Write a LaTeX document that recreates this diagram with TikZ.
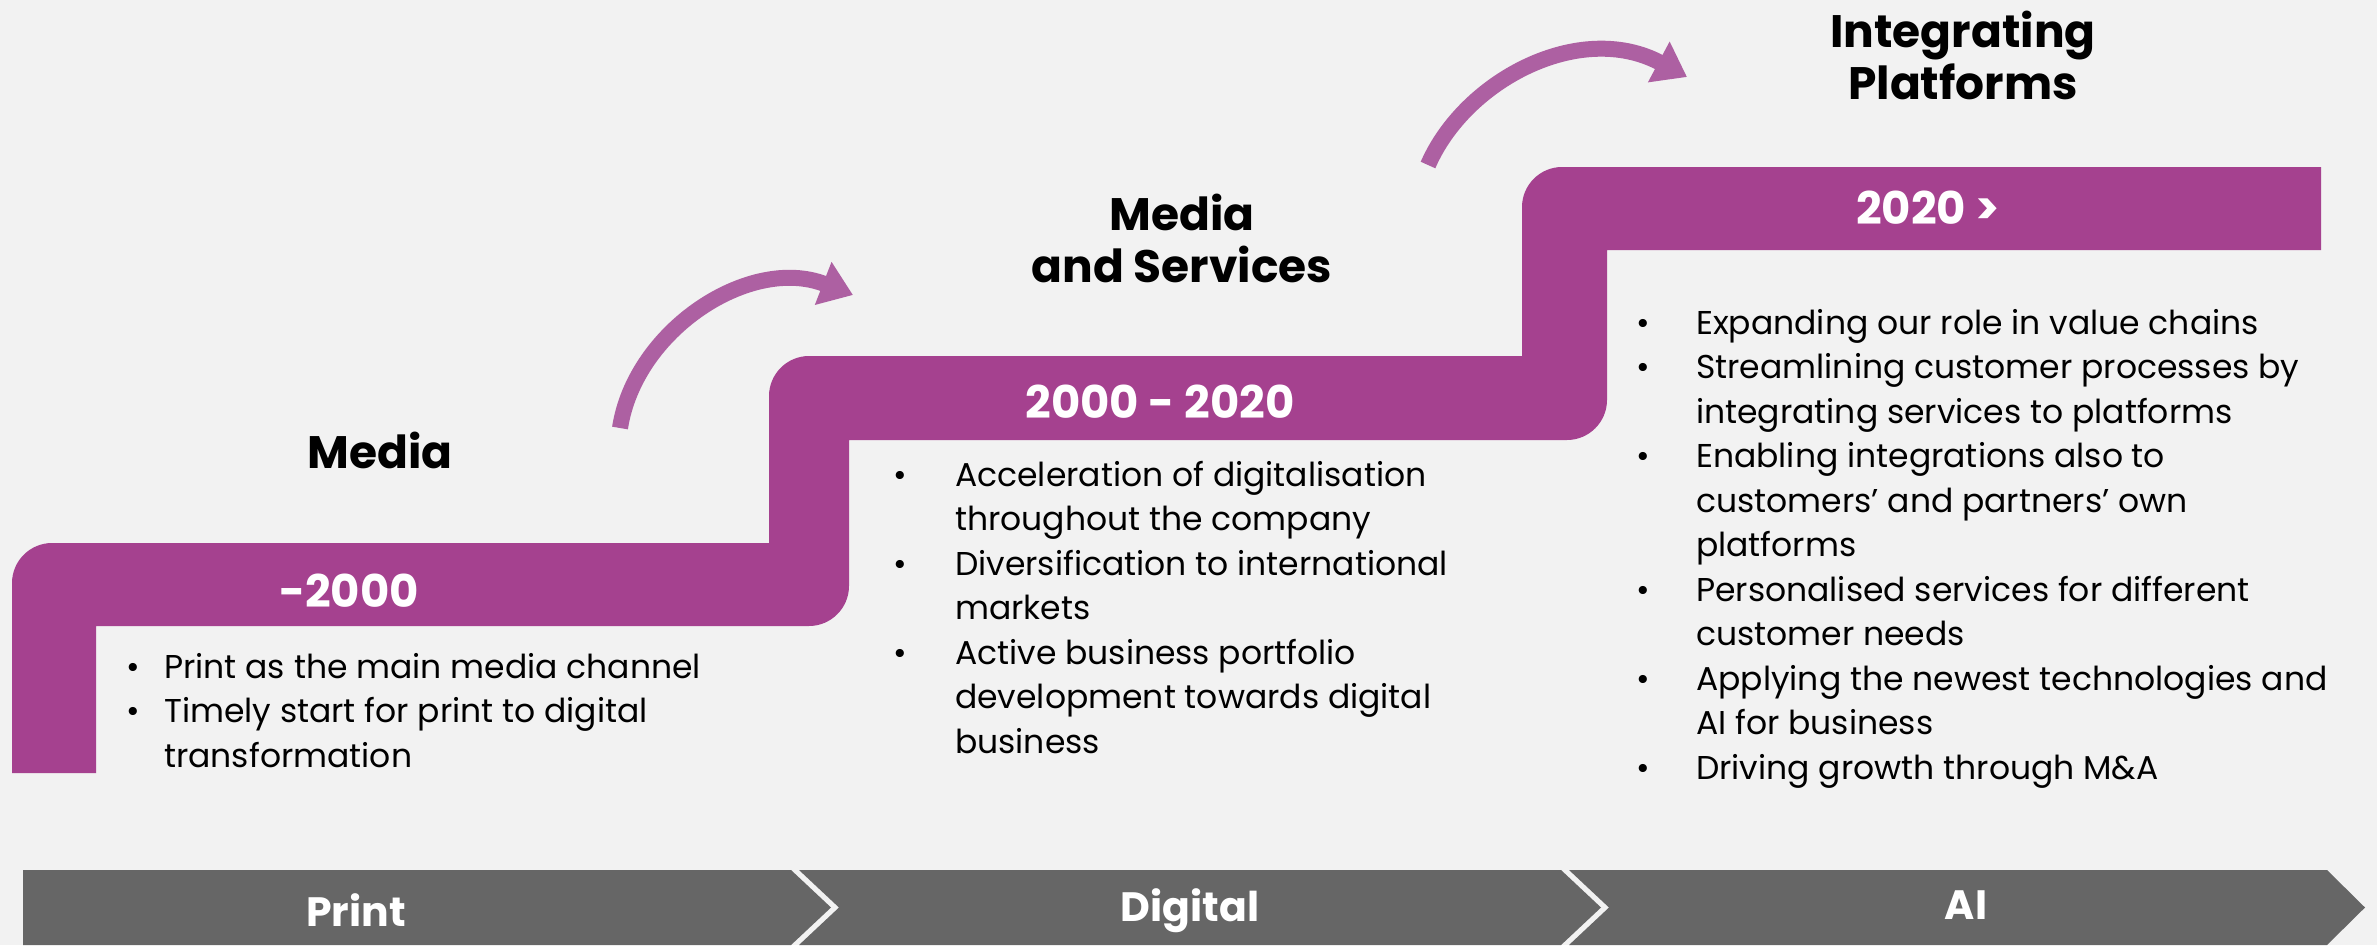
\documentclass[tikz,border=0pt]{standalone}
\usepackage{fontspec}
\setmainfont{Poppins}
\usetikzlibrary{arrows.meta}
\definecolor{bg}{HTML}{F2F2F2}
\definecolor{plum}{HTML}{A5418F}
\definecolor{arr}{HTML}{AD60A2}
\definecolor{chev}{HTML}{666666}
\begin{document}
\begin{tikzpicture}[x=1pt,y=-1pt,
  heading/.style={font=\fontsize{45.5}{52}\selectfont\bfseries, align=center, inner sep=0pt},
  year/.style={font=\fontsize{45}{50}\selectfont\bfseries, text=white, inner sep=0pt},
  phase/.style={font=\fontsize{41}{48}\selectfont\bfseries, text=white, inner sep=0pt},
  blist/.style={font=\fontsize{33}{44.5}\selectfont, anchor=north west, inner sep=0pt},
  curvearrow/.style={draw=arr, line width=16pt, -{Triangle[length=32pt,width=44pt]}},
]
\fill[bg] (0,0) rectangle (2377,945);
\useasboundingbox (0,0) rectangle (2377,945);

% staircase
\fill[plum] (12,773) -- (12,583) .. controls (12,561) and (30,543) .. (52,543)
  -- (769,543) -- (769,396) .. controls (769,374) and (787,356) .. (809,356)
  -- (1522,356) -- (1522,207) .. controls (1522,185) and (1540,167) .. (1562,167)
  -- (2321,167) -- (2321,250) -- (1607,250) -- (1607,400)
  .. controls (1607,422) and (1589,440) .. (1567,440)
  -- (849,440) -- (849,586) .. controls (849,608) and (831,626) .. (809,626)
  -- (96,626) -- (96,773) -- cycle;

% chevrons
\fill[chev] (23,870) -- (791,870) -- (831,907.5) -- (791,945) -- (23,945) -- cycle;
\fill[chev] (799,870) -- (1561,870) -- (1601,907.5) -- (1561,945) -- (799,945) -- (839,907.5) -- cycle;
\fill[chev] (1569,870) -- (2327,870) -- (2365,907.5) -- (2327,945) -- (1569,945) -- (1609,907.5) -- cycle;
\node[phase] (pPrint) at (356,910) {Print};
\node[phase] (pDigital) at (1190,911) {Digital};
\node[phase] (pAI) at (1966,905) {AI};

% headings
\node[heading] (hMedia) at (380,450) {Media};
\node[heading] (hServ) at (1182,238) {Media\\and Services};
\node[heading] (hPlat) at (1963,55) {Integrating\\Platforms};

% years
\node[year] (y1) at (349,591) {-2000};
\node[year] (y2) at (1160,402) {2000 - 2020};
\node[year] (y3) at (1928,208) {2020 >};

% arrows
\coordinate (a1s) at (620,428);
\coordinate (a1e) at (853,295);
\draw[curvearrow] (a1s) .. controls (635,330) and (750,255) .. (a1e);
\coordinate (a2s) at (1428,165);
\coordinate (a2e) at (1687,77);
\draw[curvearrow] (a2s) .. controls (1465,80) and (1580,20) .. (a2e);

% lists
\node[blist] (l1) at (126,647) {\begin{tabular}{@{}p{38pt}@{}l@{}}
\textbullet & Print as the main media channel\\
\textbullet & Timely start for print to digital\\
 & transformation
\end{tabular}};
\node[blist] (l2) at (893,455) {\begin{tabular}{@{}p{62pt}@{}l@{}}
\textbullet & Acceleration of digitalisation\\
 & throughout the company\\
\textbullet & Diversification to international\\
 & markets\\
\textbullet & Active business portfolio\\
 & development towards digital\\
 & business
\end{tabular}};
\node[blist] (l3) at (1636,303) {\begin{tabular}{@{}p{60pt}@{}l@{}}
\textbullet & Expanding our role in value chains\\
\textbullet & Streamlining customer processes by\\
 & integrating services to platforms\\
\textbullet & Enabling integrations also to\\
 & customers’ and partners’ own\\
 & platforms\\
\textbullet & Personalised services for different\\
 & customer needs\\
\textbullet & Applying the newest technologies and\\
 & AI for business\\
\textbullet & Driving growth through M\&A
\end{tabular}};
\end{tikzpicture}
\end{document}
